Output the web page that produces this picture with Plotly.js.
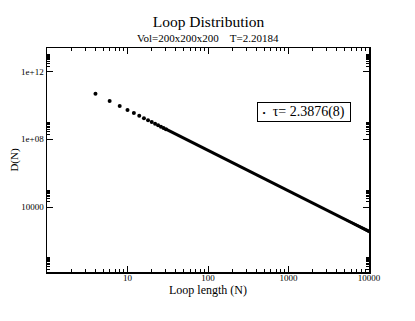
<!DOCTYPE html>
<html>
<head>
<meta charset="utf-8">
<script src="https://cdn.plot.ly/plotly-3.0.1.min.js"></script>
<style>
  html, body { margin: 0; padding: 0; background: #fff; }
  #chart { width: 415px; height: 321px; }
</style>
</head>
<body>
<div id="chart"></div>
<script>
const SERIF = '"Liberation Serif", "Times New Roman", serif';

// Individually visible points at small loop lengths (even N only).
const dotN = [4, 6, 8, 10, 12, 14, 16, 18, 20, 22, 24, 26, 28, 30];
const dotD = [4.79e10, 1.82e10, 9.14e9, 5.37e9, 3.48e9, 2.40e9, 1.75e9,
              1.32e9, 1.03e9, 8.17e8, 6.64e8, 5.48e8, 4.59e8, 3.90e8];

// Beyond N~30 the points merge into a solid band.
const lineN = [30, 40, 50, 70, 100, 200, 500, 1000, 2000, 5000, 10000];
const lineD = [3.90e8, 1.96e8, 1.15e8, 5.15e7, 2.20e7, 4.21e6, 4.71e5,
               9.02e4, 1.72e4, 1.93e3, 369];

// Scatter spread near the tail.
const bandN = [2000, 5000, 10000];
const bandHi = [1.72e4, 2.10e3, 470];
const bandLo = [1.72e4, 1.75e3, 290];

const fitLabel = 'τ= 2.3876(8)';

const xTickVals = [10, 100, 1000, 10000];
const xTickText = ['10', '100', '1000', '10000'];
const yTickVals = [1e4, 1e8, 1e12];
const yTickText = ['10000', '1e+08', '1e+12'];

function minorLog(decades, mults) {
  var out = [];
  decades.forEach(k => mults.forEach(m => out.push(m * Math.pow(10, k))));
  return out;
}

const xMinor = minorLog([0, 1, 2, 3], [2, 3, 4, 5, 6, 7, 8, 9]);
// grace puts its log minor ticks as multiples of each major (every 4 decades)
const yMinor = minorLog([0, 4, 8, 12], [2, 3, 4, 5, 6, 7, 8, 9, 10]);

function render(divId) {
  const traces = [
    {
      x: bandN, y: bandLo, mode: 'lines', line: {width: 0, color: 'black'},
      showlegend: false, hoverinfo: 'skip',
    },
    {
      x: bandN, y: bandHi, mode: 'lines', line: {width: 0, color: 'black'},
      fill: 'tonexty', fillcolor: 'black', showlegend: false, hoverinfo: 'skip',
    },
    {
      x: lineN, y: lineD, mode: 'lines', line: {width: 3, color: 'black'},
      showlegend: false,
    },
    {
      x: dotN, y: dotD, mode: 'markers', name: fitLabel,
      marker: {size: 4, color: 'black'}, showlegend: false,
    },
  ];

  const axisCommon = {
    type: 'log',
    showgrid: false,
    zeroline: false,
    showline: true,
    linecolor: 'black',
    linewidth: 1.5,
    mirror: 'allticks',
    ticks: 'inside',
    ticklen: 6,
    tickwidth: 1,
    tickcolor: 'black',
    tickmode: 'array',
    tickfont: {family: SERIF, size: 9, color: 'black'},
  };

  const layout = {
    width: 415,
    height: 321,
    paper_bgcolor: 'white',
    plot_bgcolor: 'white',
    margin: {l: 47, r: 46, t: 48, b: 49},
    font: {family: SERIF, color: 'black'},
    title: {
      text: 'Loop Distribution',
      font: {family: SERIF, size: 15.5, color: 'black'},
      x: 0.5025, xanchor: 'center',
      y: 0.932, yanchor: 'middle',
      yref: 'container',
    },
    annotations: [
      {
        text: 'Vol=200x200x200&nbsp;&nbsp;&nbsp;&nbsp;T=2.20184',
        xref: 'paper', yref: 'paper', x: 0.5, y: 1.044,
        xanchor: 'center', yanchor: 'middle', showarrow: false,
        font: {family: SERIF, size: 11, color: 'black'},
      },
      {
        // legend box as drawn by grace
        text: '&nbsp;<span style="font-size:9px">•</span>&nbsp;&nbsp;' + fitLabel,
        xref: 'paper', yref: 'paper', x: 0.798, y: 0.7125,
        xanchor: 'center', yanchor: 'middle', showarrow: false,
        width: 90, align: 'left',
        bordercolor: 'black', borderwidth: 1, borderpad: 1, bgcolor: 'white',
        font: {family: SERIF, size: 14, color: 'black'},
      },
    ],
    showlegend: false,
    xaxis: Object.assign({}, axisCommon, {
      range: [0, 4],
      tickvals: xTickVals,
      ticktext: xTickText,
      ticklabelstandoff: -3,
      minor: {tickmode: 'array', tickvals: xMinor, ticks: 'inside', ticklen: 3, tickcolor: 'black'},
      title: {text: 'Loop length (N)', font: {family: SERIF, size: 12, color: 'black'}, standoff: 2},
    }),
    yaxis: Object.assign({}, axisCommon, {
      range: [0.17, 13.38],
      tickvals: yTickVals,
      ticktext: yTickText,
      minor: {tickmode: 'array', tickvals: yMinor, ticks: 'inside', ticklen: 3, tickcolor: 'black'},
      title: {text: 'D(N)', font: {family: SERIF, size: 11, color: 'black'}, standoff: 0},
    }),
  };

  Plotly.newPlot(divId, traces, layout, {displayModeBar: false, staticPlot: true});
}

render('chart');
</script>
</body>
</html>
